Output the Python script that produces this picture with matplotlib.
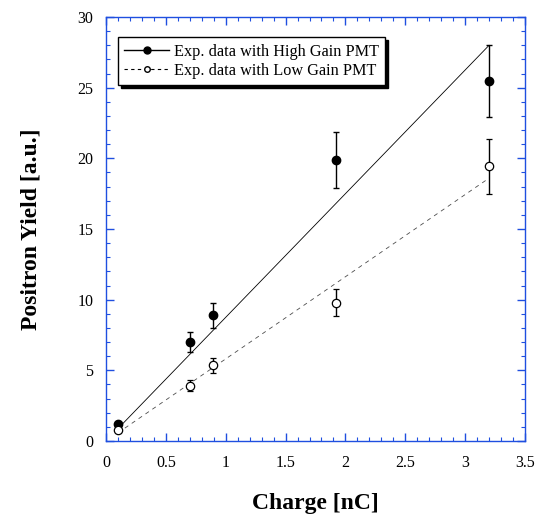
import numpy as np
import matplotlib.pyplot as plt
from matplotlib.ticker import MultipleLocator

# charge [nC]
charge = [0.1, 0.7, 0.89, 1.92, 3.2]
high_gain = [1.2, 7.0, 8.9, 19.9, 25.5]
high_err = [0.12, 0.7, 0.9, 2.0, 2.55]
low_gain = [0.8, 3.9, 5.35, 9.8, 19.45]
low_err = [0.08, 0.39, 0.53, 0.98, 1.95]

# fit lines (end points)
fit_x = [0.1, 3.2]
high_fit = [0.88, 28.0]
low_fit = [0.58, 18.6]

plt.rcParams['font.family'] = ['Liberation Serif', 'DejaVu Serif']
blue = '#1f4fe0'

fig = plt.figure(figsize=(5.39, 5.16), dpi=100)
ax = fig.add_axes([0.1967, 0.1453, 0.7773, 0.8217])

ax.plot(fit_x, high_fit, '-', color='black', lw=0.6)
ax.plot(fit_x, low_fit, '--', color='black', lw=0.6, dashes=(5, 5), alpha=0.7)
ax.errorbar(charge, high_gain, yerr=high_err, fmt='o', color='black', ms=6,
            ecolor='black', elinewidth=1.0, capsize=2.5, capthick=1.0)
ax.errorbar(charge, low_gain, yerr=low_err, fmt='o', mfc='white', mec='black',
            ms=6, mew=0.9, ecolor='black', elinewidth=1.0, capsize=2.5, capthick=1.0)

# legend handles
h1, = ax.plot([], [], '-o', color='black', ms=5, lw=1.0)
h2, = ax.plot([], [], '--o', color='black', ms=4, lw=0.8, mfc='white', dashes=(3, 3))
leg = ax.legend([h1, h2], ['Exp. data with High Gain PMT', 'Exp. data with Low Gain PMT'],
                loc='upper left', bbox_to_anchor=(0.028, 0.952), fancybox=False,
                edgecolor='black', framealpha=1, fontsize=11.7, handlelength=2.8,
                borderpad=0.38, labelspacing=0.2, handletextpad=0.3,
                borderaxespad=0, shadow={'color': 'black', 'alpha': 1})
leg.get_frame().set_linewidth(1.0)

ax.set_xlim(0, 3.5)
ax.set_ylim(0, 30)
ax.xaxis.set_major_locator(MultipleLocator(0.5))
ax.xaxis.set_minor_locator(MultipleLocator(0.1))
ax.yaxis.set_major_locator(MultipleLocator(5))
ax.yaxis.set_minor_locator(MultipleLocator(1))
ax.tick_params(which='both', direction='in', top=True, right=True, color=blue,
               labelcolor='black')
ax.tick_params(which='major', length=6, width=1.0, labelsize=11.5)
ax.tick_params(axis='x', which='major', pad=10)
ax.tick_params(axis='y', which='major', pad=9)
ax.tick_params(which='minor', length=3, width=0.8)
ax.set_xticks([0, 0.5, 1, 1.5, 2, 2.5, 3, 3.5])
ax.set_xticklabels(['0', '0.5', '1', '1.5', '2', '2.5', '3', '3.5'])
ax.set_yticks([0, 5, 10, 15, 20, 25, 30])
ax.set_yticklabels(['0', '5', '10', '15', '20', '25', '30'])
for s in ax.spines.values():
    s.set_color(blue)
    s.set_linewidth(1.0)

ax.set_xlabel('Charge [nC]', fontsize=17, fontweight='bold', labelpad=16)
ax.set_ylabel('Positron Yield [a.u.]', fontsize=17, fontweight='bold', labelpad=26)

fig.savefig('out.png', dpi=100)
